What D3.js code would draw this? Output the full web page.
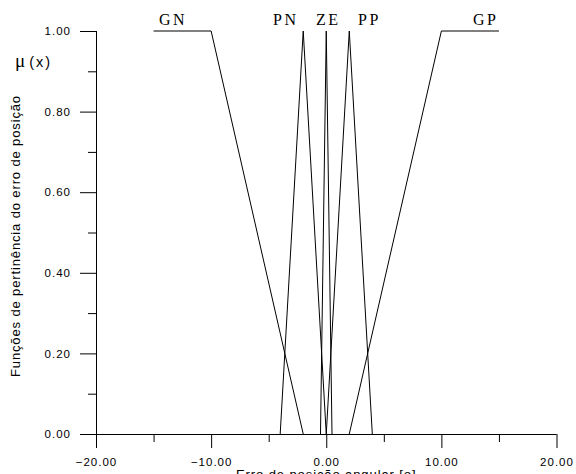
<!DOCTYPE html>
<html><head><meta charset="utf-8">
<script src="https://cdn.jsdelivr.net/npm/d3@7"></script>
<style>
html,body{margin:0;padding:0;background:#fff;}
svg{display:block;}
.num{font-family:"Liberation Sans",Arial,sans-serif;font-size:11.5px;letter-spacing:1px;fill:#000;}
.set{font-family:"Liberation Serif","Times New Roman",serif;font-size:16px;fill:#000;letter-spacing:2.5px;}
.ttl{font-family:"Liberation Sans",Arial,sans-serif;font-size:13px;letter-spacing:0.9px;fill:#000;}
</style></head>
<body><svg id="c" width="576" height="474"></svg>
<script>
// ---- data ----
const setNames = ["GN","PN","ZE","PP","GP"];
const GN_x = [-15,-10,-2], GN_mu = [1,1,0];
const PN_x = [-4,-2,0],    PN_mu = [0,1,0];
const ZE_x = [-0.5,0,0.5], ZE_mu = [0,1,0];
const PP_x = [0,2,4],      PP_mu = [0,1,0];
const GP_x = [2,10,15],    GP_mu = [0,1,1];
const xMajor = [-20,-10,0,10,20];
const xMinor = [-15,-5,5,15];
const yMajor = [0,0.2,0.4,0.6,0.8,1.0];
const yMinor = [0.1,0.3,0.5,0.7,0.9];
const yTitle = "Funções de pertinência do erro de posição";
const xTitle = "Erro de posição angular [o]";

// ---- layout ----
const svg = d3.select("#c");
const x = d3.scaleLinear().domain([-20,20]).range([96,556.5]);
const y = d3.scaleLinear().domain([0,1]).range([434,31]);
const fmt = d3.format(".2f");

// axes
const gx = svg.append("g").attr("transform","translate(0,434)");
gx.call(d3.axisBottom(x).tickValues(xMajor).tickSize(14).tickPadding(10).tickFormat(fmt).tickSizeOuter(0));
gx.select(".domain").remove();
gx.selectAll("text").attr("class","num").attr("font-size",null).attr("font-family",null);
const gx2 = svg.append("g").attr("transform","translate(0,434)");
gx2.call(d3.axisBottom(x).tickValues(xMinor).tickSize(8).tickFormat(""));
gx2.select(".domain").remove();

const gy = svg.append("g").attr("transform","translate(96,0)");
gy.call(d3.axisLeft(y).tickValues(yMajor).tickSize(16).tickPadding(9).tickFormat(fmt).tickSizeOuter(0));
gy.select(".domain").remove();
gy.selectAll("text").attr("class","num").attr("font-size",null).attr("font-family",null);
const gy2 = svg.append("g").attr("transform","translate(96,0)");
gy2.call(d3.axisLeft(y).tickValues(yMinor).tickSize(8).tickFormat(""));
gy2.select(".domain").remove();
svg.selectAll(".tick line").attr("stroke","#000").attr("stroke-width",1);

// axis lines
svg.append("line").attr("x1",80).attr("x2",x(20)).attr("y1",y(0)+0.5).attr("y2",y(0)+0.5).attr("stroke","#000");
svg.append("line").attr("x1",x(-20)+0.5).attr("x2",x(-20)+0.5).attr("y1",y(1)).attr("y2",y(0)).attr("stroke","#000");

// membership functions
const sets = [[GN_x,GN_mu],[PN_x,PN_mu],[ZE_x,ZE_mu],[PP_x,PP_mu],[GP_x,GP_mu]];
const line = d3.line().x(d=>x(d[0])).y(d=>y(d[1]));
sets.forEach(([xs,ms])=>{
  svg.append("path").attr("d",line(xs.map((v,i)=>[v,ms[i]])))
    .attr("fill","none").attr("stroke","#000").attr("stroke-width",1);
});

// set labels (pixel start positions)
const labelLeft = [159,273,316,358,473];
setNames.forEach((n,i)=>{
  svg.append("text").attr("class","set").attr("x",labelLeft[i]).attr("y",25).text(n);
});

// mu(x)
const mu = svg.append("text").attr("x",15).attr("y",67).attr("class","ttl").style("font-size","14.5px").style("letter-spacing","2px");
mu.append("tspan").style("font-family","'Liberation Serif',serif").style("font-size","19px").text("μ");
mu.append("tspan").attr("dx",2).text("(x)");

// titles
svg.append("text").attr("class","ttl").attr("text-anchor","middle")
  .attr("transform","translate(20,236) rotate(-90)")
  .attr("textLength",282).attr("lengthAdjust","spacing").text(yTitle);
svg.append("text").attr("class","ttl").attr("text-anchor","middle")
  .attr("x",x(0)).attr("y",479).text(xTitle);
</script></body></html>
